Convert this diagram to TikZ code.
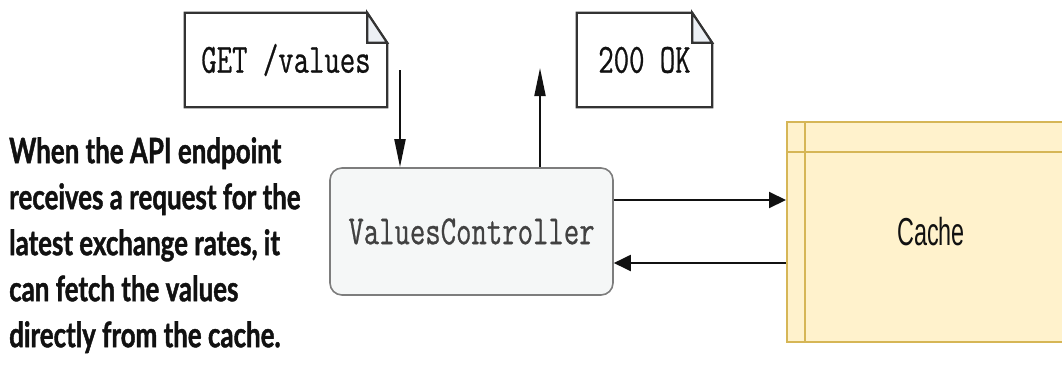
\documentclass[tikz,border=0pt]{standalone}
\usepackage{fontspec}
\setmainfont{Liberation Sans}[FakeStretch=0.6]
\newfontfamily\codefont{Latin Modern Mono}[FakeStretch=0.72, FakeBold=0.6]
\newfontfamily\notefont{Lato}[FakeStretch=0.74, FakeBold=1.2]
\usetikzlibrary{arrows.meta, positioning, calc}
\definecolor{noteBorder}{RGB}{51,51,51}
\definecolor{foldFill}{RGB}{236,240,245}
\definecolor{ctrlFill}{RGB}{245,247,247}
\definecolor{ctrlBorder}{RGB}{125,125,125}
\definecolor{cacheFill}{RGB}{255,242,204}
\definecolor{cacheBorder}{RGB}{214,182,86}
\definecolor{ink}{RGB}{17,17,17}

\begin{document}
\begin{tikzpicture}[x=1pt, y=-1pt,
  note/.style={fill=white, inner sep=0pt, minimum height=94pt, text=ink,
               font=\codefont\fontsize{41.5}{41.5}\selectfont},
  noteline/.style={draw=noteBorder, line width=2.2pt, line join=miter},
  ctrl/.style={draw=ctrlBorder, fill=ctrlFill, line width=1.6pt, rounded corners=12pt,
               minimum width=283pt, minimum height=127pt, inner sep=0pt, text=ink!80,
               font=\codefont\fontsize{41.5}{41.5}\selectfont},
  cache/.style={draw=cacheBorder, fill=cacheFill, line width=2pt, minimum width=288pt,
                minimum height=220pt, inner sep=0pt, text=ink, font=\fontsize{39}{39}\selectfont},
  caption/.style={align=left, inner sep=0pt, text=ink,
                  font=\notefont\bfseries\fontsize{35}{46}\selectfont},
  harr/.style={-{Triangle[length=17pt, width=16pt]}, line width=2pt, draw=ink},
  varr/.style={-{Triangle[length=28pt, width=11pt]}, line width=2pt, draw=ink}
]
\clip (0,0) rectangle (1062,381);
\node[note, minimum width=202pt] (getnote) at (286,60) {GET /values};
\node[note, minimum width=135pt] (oknote) at (644.5,60) {200 OK};
\foreach \n in {getnote, oknote} {
  \draw[noteline] (\n.north west) -- ($(\n.north east)+(-20,0)$) -- ($(\n.north east)+(0,30)$)
    -- (\n.south east) -- (\n.south west) -- cycle;
  \filldraw[noteline, fill=foldFill] ($(\n.north east)+(-20,0)$) -- ($(\n.north east)+(-20,30)$)
    -- ($(\n.north east)+(0,30)$) -- cycle;
}
\node[ctrl] (ctrl) at (471.5,231.5) {ValuesController};
\node[cache] (cache) at (931,232) {Cache};
\draw[cacheBorder, line width=2pt] ($(cache.north west)+(0,31)$) -- ($(cache.north east)+(0,31)$);
\draw[cacheBorder, line width=2pt] ($(cache.north west)+(19,0)$) -- ($(cache.south west)+(19,0)$);
\node[caption, anchor=north west] (caption) at (9,137)
  {When the API endpoint\\receives a request for the\\latest exchange rates, it\\can fetch the values\\directly from the cache.};
% request and response
\coordinate (getstart) at (400,70);
\coordinate (oktip) at (540,68);
\draw[varr] (getstart) -- (getstart |- ctrl.north);
\draw[varr] (oktip |- ctrl.north) -- (oktip);
% cache lookups
\draw[harr] ($(ctrl.east)+(0,-31.5)$) coordinate (askout) -- (askout -| cache.west);
\draw[harr] ($(cache.west)+(0,31)$) coordinate (answer) -- (answer -| ctrl.east);
\end{tikzpicture}
\end{document}
